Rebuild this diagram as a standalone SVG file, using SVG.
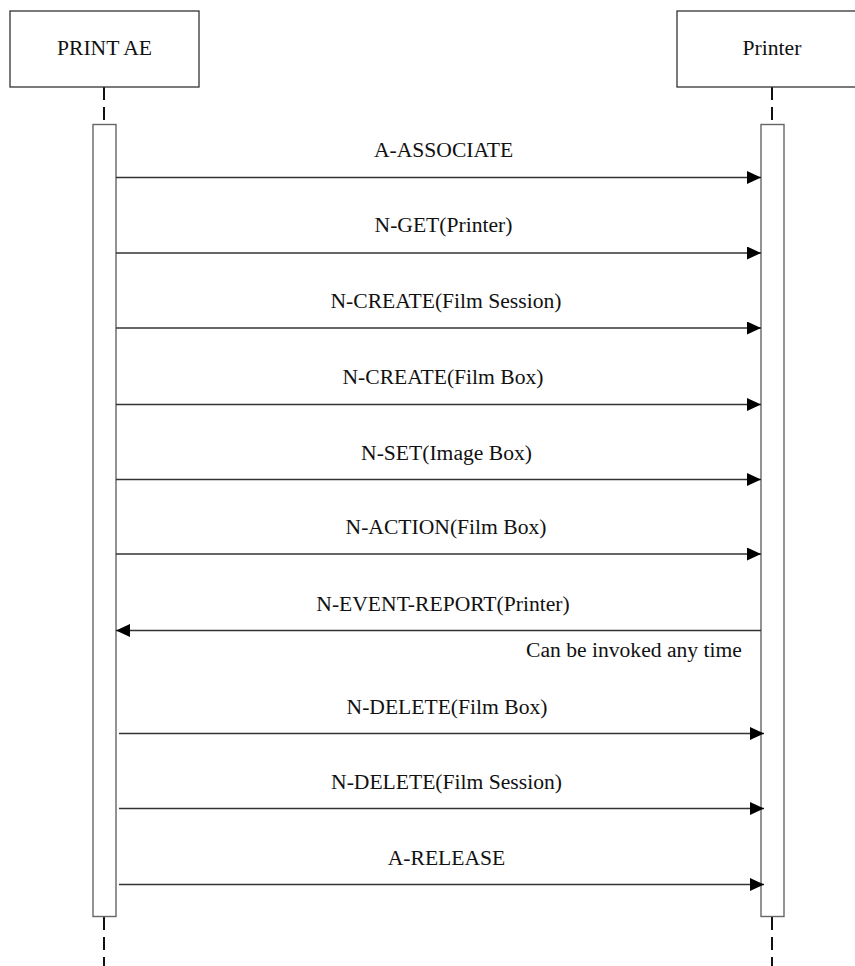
<svg xmlns="http://www.w3.org/2000/svg" width="855" height="966" viewBox="0 0 855 966">
<style>
.box{fill:#fff;stroke:#333;stroke-width:1.3}
.act{fill:#fff;stroke:#666;stroke-width:1.4}
.life{stroke:#111;stroke-width:2;stroke-dasharray:13 7;fill:none}
.msg{stroke:#333;stroke-width:1.4;fill:none;marker-end:url(#ah)}
text{font-family:"Liberation Serif","Times New Roman",serif;font-size:21.6px;fill:#111}
.c{text-anchor:middle}
</style>
<defs>
<marker id="ah" markerUnits="userSpaceOnUse" markerWidth="15" markerHeight="14" refX="14" refY="6.5" orient="auto">
<path d="M0,0 L14,6.5 L0,13 z" fill="#000"/>
</marker>
</defs>
<g id="lifelines">
<line class="life" x1="104" y1="87" x2="104" y2="124"/>
<line class="life" x1="772" y1="87" x2="772" y2="124"/>
<line class="life" x1="104" y1="917" x2="104" y2="966"/>
<line class="life" x1="772" y1="917" x2="772" y2="966"/>
</g>
<g id="print-ae">
<rect class="box" x="10" y="11" width="189" height="76"/>
<text class="c" x="104.5" y="55">PRINT AE</text>
</g>
<g id="printer">
<rect class="box" x="677" y="11" width="190" height="76"/>
<text class="c" x="772" y="55">Printer</text>
</g>
<g id="act-left"><rect class="act" x="93" y="124.5" width="23" height="792"/></g>
<g id="act-right"><rect class="act" x="761" y="124.5" width="23" height="792"/></g>
<g id="connectors">
<line class="msg" x1="116" y1="177.5" x2="761" y2="177.5"/>
<text class="c" x="443.5" y="157">A-ASSOCIATE</text>
<line class="msg" x1="116" y1="253" x2="761" y2="253"/>
<text class="c" x="443.5" y="232">N-GET(Printer)</text>
<line class="msg" x1="116" y1="328" x2="761" y2="328"/>
<text class="c" x="446" y="308">N-CREATE(Film Session)</text>
<line class="msg" x1="116" y1="404.5" x2="761" y2="404.5"/>
<text class="c" x="443" y="384">N-CREATE(Film Box)</text>
<line class="msg" x1="116" y1="479.5" x2="761" y2="479.5"/>
<text class="c" x="446.5" y="460">N-SET(Image Box)</text>
<line class="msg" x1="116" y1="554" x2="761" y2="554"/>
<text class="c" x="446" y="534">N-ACTION(Film Box)</text>
<line class="msg" x1="761" y1="630.5" x2="116" y2="630.5"/>
<text class="c" x="443" y="611">N-EVENT-REPORT(Printer)</text>
<text x="526" y="657">Can be invoked any time</text>
<line class="msg" x1="119" y1="733.5" x2="764" y2="733.5"/>
<text class="c" x="447" y="714">N-DELETE(Film Box)</text>
<line class="msg" x1="119" y1="808.5" x2="764" y2="808.5"/>
<text class="c" x="446.5" y="789">N-DELETE(Film Session)</text>
<line class="msg" x1="119" y1="884.5" x2="764" y2="884.5"/>
<text class="c" x="446.5" y="865">A-RELEASE</text>
</g>
</svg>
